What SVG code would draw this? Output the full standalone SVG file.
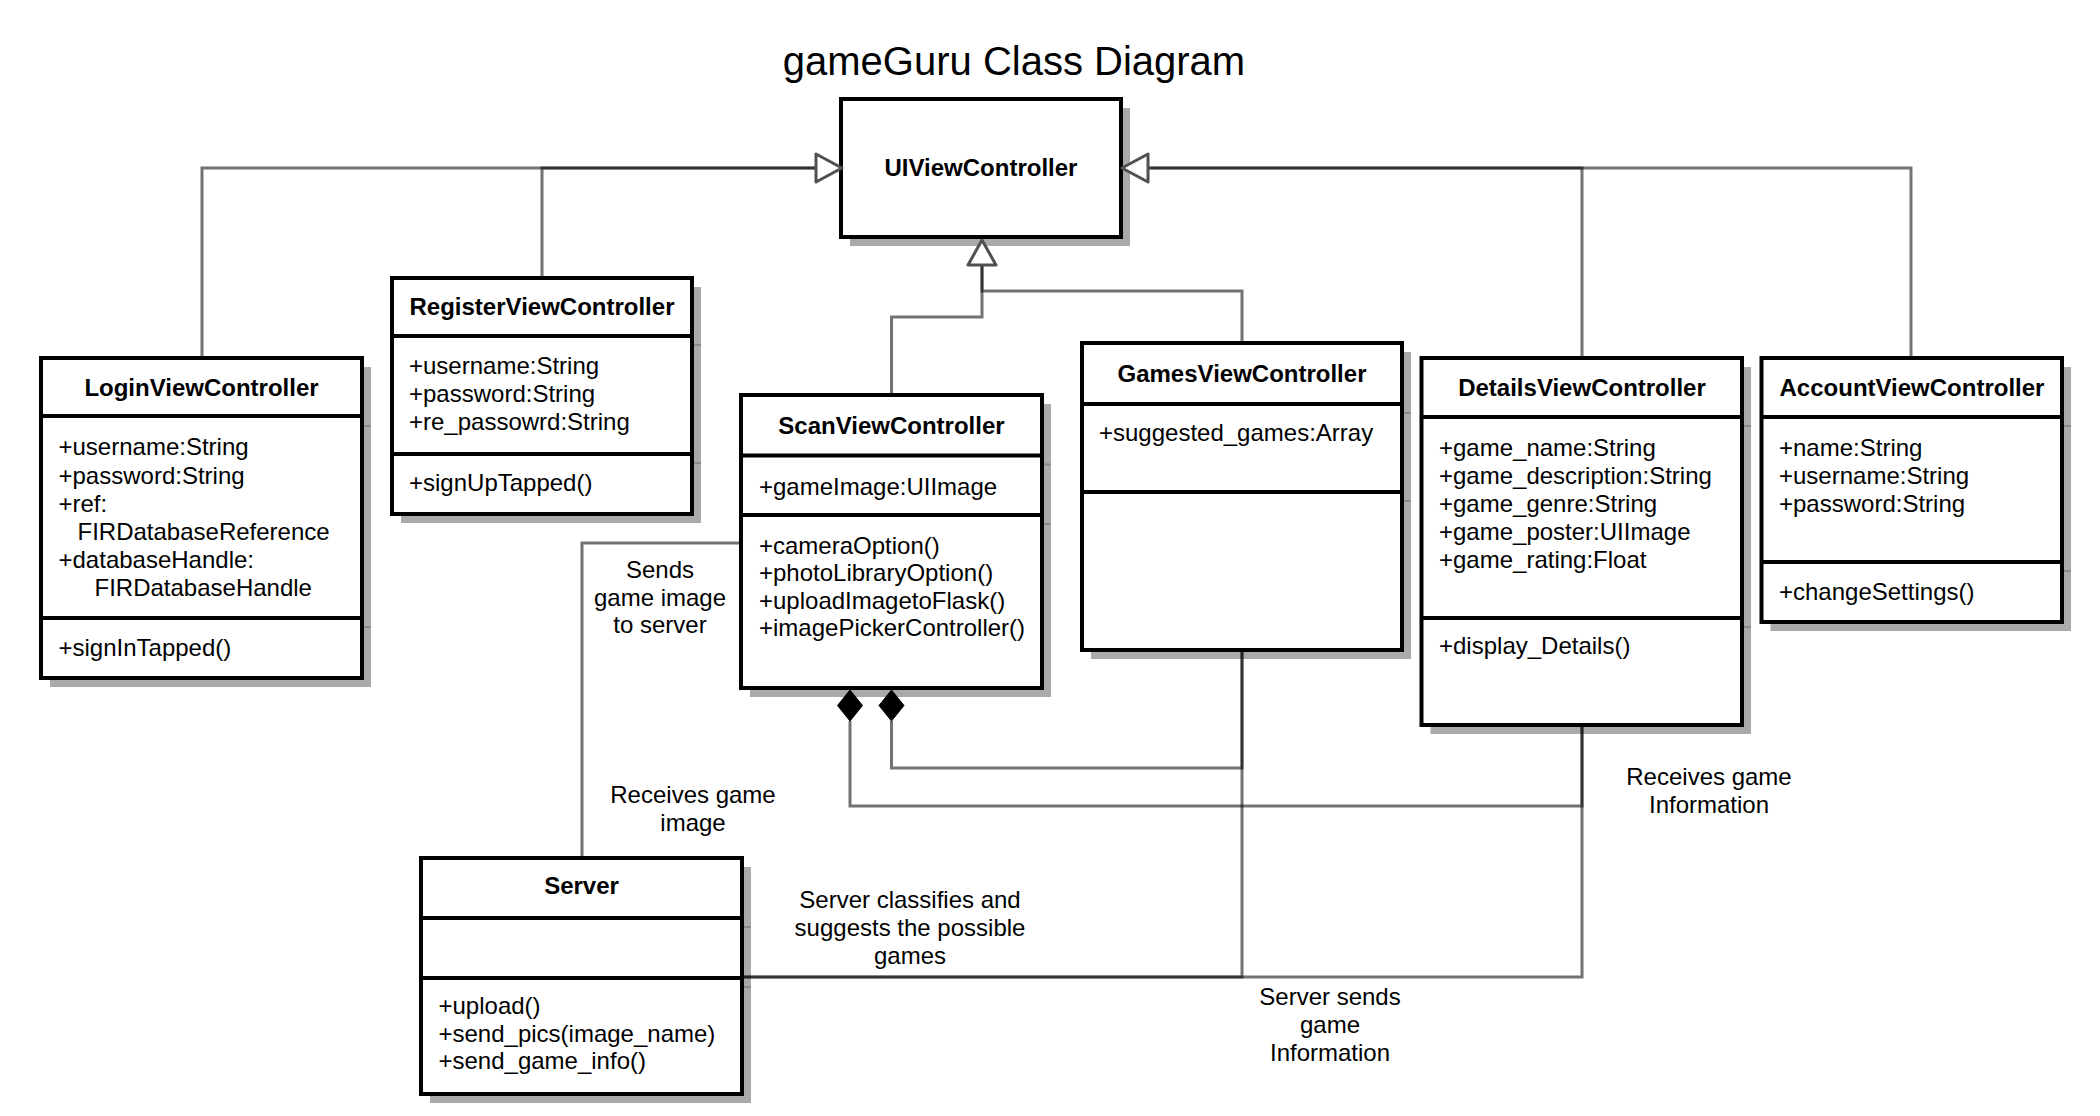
<svg xmlns="http://www.w3.org/2000/svg" width="2100" height="1116" viewBox="0 0 2100 1116">
<style>
.bg{fill:#fff}
.box{fill:#fff;stroke:#000;stroke-width:4}
.shadow{fill:#aaa}
.div{stroke:#000;stroke-width:4}
.tick{stroke:#8a8a8a;stroke-width:2}
.name{font-family:"Liberation Sans",Arial,sans-serif;font-weight:bold;font-size:24px;text-anchor:middle;fill:#000}
.attr{font-family:"Liberation Sans",Arial,sans-serif;font-size:24px;fill:#000}
.lbl{font-family:"Liberation Sans",Arial,sans-serif;font-size:24px;text-anchor:middle;fill:#000}
.title{font-family:"Liberation Sans",Arial,sans-serif;font-size:40px;text-anchor:middle;fill:#000}
.conn{fill:none;stroke:#000;stroke-opacity:0.55;stroke-width:3}
.gen{fill:#fff;stroke:#505050;stroke-width:3;stroke-linejoin:round}
.comp{fill:#000;stroke:#000;stroke-width:1}
</style>
<rect class="bg" x="0" y="0" width="2100" height="1116"/>
<text class="title" x="1014" y="75">gameGuru Class Diagram</text>

<g id="UIViewController">
  <rect class="shadow" x="850" y="108" width="280" height="138"/>
  <rect class="box" x="841" y="99" width="280" height="138"/>
  <text class="name" x="981" y="176">UIViewController</text>
</g>

<g id="LoginViewController">
  <rect class="shadow" x="50" y="367" width="321" height="320"/>
  <rect class="box" x="41" y="358" width="321" height="320"/>
  <line class="div" x1="41" y1="416" x2="362" y2="416"/>
  <line class="div" x1="41" y1="618" x2="362" y2="618"/>
  <line class="tick" x1="364" y1="426" x2="371" y2="426"/>
  <line class="tick" x1="364" y1="627" x2="371" y2="627"/>
  <text class="name" x="201.5" y="396">LoginViewController</text>
  <text class="attr" x="58.5" y="455">+username:String</text>
  <text class="attr" x="58.5" y="483.5">+password:String</text>
  <text class="attr" x="58.5" y="512">+ref:</text>
  <text class="attr" x="77.5" y="540">FIRDatabaseReference</text>
  <text class="attr" x="58.5" y="568">+databaseHandle:</text>
  <text class="attr" x="94.5" y="596">FIRDatabaseHandle</text>
  <text class="attr" x="58.5" y="656">+signInTapped()</text>
</g>

<g id="RegisterViewController">
  <rect class="shadow" x="401" y="287" width="300" height="236"/>
  <rect class="box" x="392" y="278" width="300" height="236"/>
  <line class="div" x1="392" y1="336" x2="692" y2="336"/>
  <line class="div" x1="392" y1="454" x2="692" y2="454"/>
  <line class="tick" x1="694" y1="345" x2="701" y2="345"/>
  <line class="tick" x1="694" y1="463" x2="701" y2="463"/>
  <text class="name" x="542" y="315">RegisterViewController</text>
  <text class="attr" x="409" y="374">+username:String</text>
  <text class="attr" x="409" y="402">+password:String</text>
  <text class="attr" x="409" y="430">+re_passowrd:String</text>
  <text class="attr" x="409" y="491">+signUpTapped()</text>
</g>

<g id="ScanViewController">
  <rect class="shadow" x="750" y="404" width="301" height="293"/>
  <rect class="box" x="741" y="395" width="301" height="293"/>
  <line class="div" x1="741" y1="455.5" x2="1042" y2="455.5"/>
  <line class="div" x1="741" y1="515" x2="1042" y2="515"/>
  <line class="tick" x1="1044" y1="464.5" x2="1051" y2="464.5"/>
  <line class="tick" x1="1044" y1="524" x2="1051" y2="524"/>
  <text class="name" x="891.5" y="434">ScanViewController</text>
  <text class="attr" x="759" y="494.5">+gameImage:UIImage</text>
  <text class="attr" x="759" y="554">+cameraOption()</text>
  <text class="attr" x="759" y="581">+photoLibraryOption()</text>
  <text class="attr" x="759" y="608.5">+uploadImagetoFlask()</text>
  <text class="attr" x="759" y="636">+imagePickerController()</text>
</g>

<g id="GamesViewController">
  <rect class="shadow" x="1091" y="352" width="320" height="307"/>
  <rect class="box" x="1082" y="343" width="320" height="307"/>
  <line class="div" x1="1082" y1="404" x2="1402" y2="404"/>
  <line class="div" x1="1082" y1="492" x2="1402" y2="492"/>
  <line class="tick" x1="1404" y1="413" x2="1411" y2="413"/>
  <line class="tick" x1="1404" y1="501" x2="1411" y2="501"/>
  <text class="name" x="1242" y="381.5">GamesViewController</text>
  <text class="attr" x="1099" y="441">+suggested_games:Array</text>
</g>

<g id="DetailsViewController">
  <rect class="shadow" x="1430.5" y="367" width="320.5" height="367"/>
  <rect class="box" x="1421.5" y="358" width="320.5" height="367"/>
  <line class="div" x1="1421.5" y1="417" x2="1742" y2="417"/>
  <line class="div" x1="1421.5" y1="618" x2="1742" y2="618"/>
  <line class="tick" x1="1744" y1="426" x2="1751" y2="426"/>
  <line class="tick" x1="1744" y1="627" x2="1751" y2="627"/>
  <text class="name" x="1582" y="396">DetailsViewController</text>
  <text class="attr" x="1439" y="455.5">+game_name:String</text>
  <text class="attr" x="1439" y="484">+game_description:String</text>
  <text class="attr" x="1439" y="512">+game_genre:String</text>
  <text class="attr" x="1439" y="540">+game_poster:UIImage</text>
  <text class="attr" x="1439" y="568">+game_rating:Float</text>
  <text class="attr" x="1439" y="654">+display_Details()</text>
</g>

<g id="AccountViewController">
  <rect class="shadow" x="1770.5" y="367" width="300.5" height="264"/>
  <rect class="box" x="1761.5" y="358" width="300.5" height="264"/>
  <line class="div" x1="1761.5" y1="417" x2="2062" y2="417"/>
  <line class="div" x1="1761.5" y1="562" x2="2062" y2="562"/>
  <line class="tick" x1="2064" y1="426" x2="2071" y2="426"/>
  <line class="tick" x1="2064" y1="571" x2="2071" y2="571"/>
  <text class="name" x="1912" y="396">AccountViewController</text>
  <text class="attr" x="1779" y="455.5">+name:String</text>
  <text class="attr" x="1779" y="484">+username:String</text>
  <text class="attr" x="1779" y="512">+password:String</text>
  <text class="attr" x="1779" y="600">+changeSettings()</text>
</g>

<g id="Server">
  <rect class="shadow" x="430" y="867" width="321" height="236"/>
  <rect class="box" x="421" y="858" width="321" height="236"/>
  <line class="div" x1="421" y1="918" x2="742" y2="918"/>
  <line class="div" x1="421" y1="978" x2="742" y2="978"/>
  <line class="tick" x1="744" y1="927" x2="751" y2="927"/>
  <line class="tick" x1="744" y1="987" x2="751" y2="987"/>
  <text class="name" x="581.5" y="894">Server</text>
  <text class="attr" x="438.5" y="1013.5">+upload()</text>
  <text class="attr" x="438.5" y="1041.5">+send_pics(image_name)</text>
  <text class="attr" x="438.5" y="1069">+send_game_info()</text>
</g>

<g id="connectors">
  <path class="conn" d="M202,356 V168 H816"/>
  <path class="conn" d="M542,276 V168 H816"/>
  <path class="conn" d="M1582,356 V168 H1148"/>
  <path class="conn" d="M1911,356 V168 H1148"/>
  <path class="conn" d="M891.5,393 V317 H982 V264"/>
  <path class="conn" d="M1242,341 V291 H982 V264"/>
  <path class="conn" d="M739,543 H582 V856"/>
  <path class="conn" d="M891.5,721 V768 H1242 V652"/>
  <path class="conn" d="M850,721 V806 H1582 V727"/>
  <path class="conn" d="M744,977 H1242 V652"/>
  <path class="conn" d="M744,977 H1582 V727"/>
  <polygon class="gen" points="842,168 816,154 816,182"/>
  <polygon class="gen" points="1122,168 1148,154 1148,182"/>
  <polygon class="gen" points="982,240 968,265 996,265"/>
  <polygon class="comp" points="850,690 862.5,705.5 850,721 837.5,705.5"/>
  <polygon class="comp" points="891.5,690 904,705.5 891.5,721 879,705.5"/>
  <text class="lbl" x="660" y="578">Sends</text>
  <text class="lbl" x="660" y="606">game image</text>
  <text class="lbl" x="660" y="633">to server</text>
  <text class="lbl" x="693" y="803">Receives game</text>
  <text class="lbl" x="693" y="831">image</text>
  <text class="lbl" x="910" y="908">Server classifies and</text>
  <text class="lbl" x="910" y="936">suggests the possible</text>
  <text class="lbl" x="910" y="964">games</text>
  <text class="lbl" x="1709" y="785">Receives game</text>
  <text class="lbl" x="1709" y="813">Information</text>
  <text class="lbl" x="1330" y="1005">Server sends</text>
  <text class="lbl" x="1330" y="1033">game</text>
  <text class="lbl" x="1330" y="1061">Information</text>
</g>
</svg>
